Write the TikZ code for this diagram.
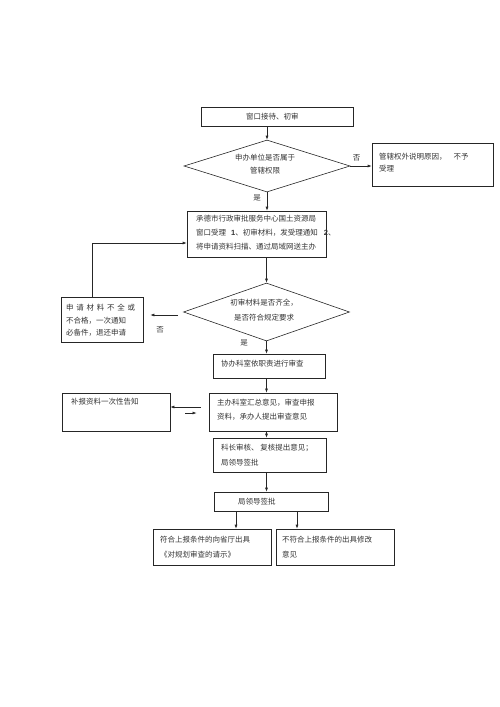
\documentclass[tikz,border=0pt]{standalone}
\usepackage{fontspec}
\newfontfamily\cjk{Noto Sans CJK SC}
\newfontfamily\latinb{Liberation Sans}
\usepackage{tikz}
\usetikzlibrary{shapes.geometric, fit, arrows.meta}

\begin{document}
\begin{tikzpicture}[x=1pt, y=-1pt,
	font=\cjk\fontsize{7.5}{14}\selectfont,
	box/.style={draw=black!85, line width=0.6pt, inner sep=0pt},
	ask/.style={draw=black!85, line width=0.6pt, diamond, inner sep=0pt},
	txt/.style={anchor=north west, align=left, inner sep=0pt, text=black!80},
	yn/.style={inner sep=0pt, text=black!80},
	arr/.style={-{Latex[length=4pt, width=3pt]}, line width=0.6pt, black!85}]

\useasboundingbox (0, 0) rectangle (500, 707);

%% Define the nodes
% tl = top left (box)
% br = bottom right (box)
% t = text of the box

\coordinate (WINtl) at (201, 107);
\coordinate (WINbr) at (353, 126);
\node [box, fit=(WINtl)(WINbr)] (WIN) {};
	\node [txt] (WINt) at (246, 112.5) {窗口接待、初审};

\node [ask, minimum width=166, minimum height=52] (Q1) at (267, 166) {};
	\node [txt, anchor=north, align=center, font=\cjk\fontsize{7.5}{13}\selectfont] (Q1t) at (265, 154) {申办单位是否属于\\管辖权限};

\coordinate (OUTtl) at (372, 143);
\coordinate (OUTbr) at (493, 186);
\node [box, fit=(OUTtl)(OUTbr)] (OUT) {};
	\node [txt, font=\cjk\fontsize{7.5}{12}\selectfont] (OUTt) at (379, 153) {管辖权外说明原因，\hspace{7pt}不予\\受理};

\coordinate (ACCtl) at (187, 211);
\coordinate (ACCbr) at (326, 257);
\node [box, fit=(ACCtl)(ACCbr)] (ACC) {};
	\node [txt] (ACCt) at (196, 215) {承德市行政审批服务中心国土资源局\\窗口受理\hspace{5pt}{\latinb\bfseries 1}、初审材料，发受理通知\hspace{6pt}{\latinb\bfseries 2}、\\将申请资料扫描、通过局域网送主办};

\node [ask, minimum width=166, minimum height=58] (Q2) at (266.5, 312) {};
	\node [txt, anchor=north, align=center, font=\cjk\fontsize{7.5}{15}\selectfont] (Q2t) at (264, 299) {初审材料是否齐全，\\是否符合规定要求};

\coordinate (RETtl) at (61, 297);
\coordinate (RETbr) at (143, 342);
\node [box, fit=(RETtl)(RETbr)] (RET) {};
	\node [txt, font=\cjk\fontsize{7.5}{12.5}\selectfont] (RETt) at (66, 304) {\makebox[69pt][s]{申\hfill 请\hfill 材\hfill 料\hfill 不\hfill 全\hfill 或}\\不合格，一次通知\\必备件，退还申请};

\coordinate (ASSTtl) at (213, 354);
\coordinate (ASSTbr) at (325, 378);
\node [box, fit=(ASSTtl)(ASSTbr)] (ASST) {};
	\node [txt] (ASSTt) at (221, 360) {协办科室依职责进行审查};

\coordinate (MAINtl) at (209, 393);
\coordinate (MAINbr) at (337, 431);
\node [box, line width=0.9pt, fit=(MAINtl)(MAINbr)] (MAIN) {};
	\node [txt] (MAINt) at (217, 399) {主办科室汇总意见，审查申报\\资料，承办人提出审查意见};

\coordinate (SUPPtl) at (62, 393);
\coordinate (SUPPbr) at (170, 431);
\node [box, fit=(SUPPtl)(SUPPbr)] (SUPP) {};
	\node [txt] (SUPPt) at (71, 398) {补报资料一次性告知};

\coordinate (CHFtl) at (213, 438);
\coordinate (CHFbr) at (326, 472);
\node [box, fit=(CHFtl)(CHFbr)] (CHF) {};
	\node [txt, font=\cjk\fontsize{7.5}{15}\selectfont] (CHFt) at (221, 444) {科长审核、 复核提出意见；\\局领导签批};

\coordinate (LEADtl) at (214, 492);
\coordinate (LEADbr) at (328, 511);
\node [box, fit=(LEADtl)(LEADbr)] (LEAD) {};
	\node [txt] (LEADt) at (238, 498) {局领导签批};

\coordinate (YEStl) at (153, 529);
\coordinate (YESbr) at (271, 565);
\node [box, fit=(YEStl)(YESbr)] (YES) {};
	\node [txt, font=\cjk\fontsize{7.5}{15}\selectfont] (YESt) at (160, 536) {符合上报条件的向省厅出具\\《对规划审查的请示》};

\coordinate (NOtl) at (276, 529);
\coordinate (NObr) at (394, 565);
\node [box, fit=(NOtl)(NObr)] (NO) {};
	\node [txt, font=\cjk\fontsize{7.5}{15}\selectfont] (NOt) at (282, 536) {不符合上报条件的出具修改\\意见};

\coordinate (LOOP) at (92, 243);

%% Draw the flow
\draw [arr] (Q1.north |- WIN.south) to (Q1.north);
\draw [arr] (Q1.east) to node [yn, above=5pt, pos=0.3] (Q1no) {否} (Q1.east -| OUT.west);
\draw [arr] (Q1.south) to (Q1.south |- ACC.north);
\node [yn] (Q1yes) at (257, 198) {是};

\draw [arr] (RET.north -| LOOP) -- (LOOP) -- (LOOP -| ACC.west);
\draw [arr] (Q2.north |- ACC.south) to (Q2.north);

\draw [arr] ([shift={(-5,3)}]Q2.west) to ([shift={(7,3)}]RET.east |- Q2.west);
\node [yn] (Q2no) at (160, 330) {否};
\draw [arr] (Q2.south) to (Q2.south |- ASST.north);
\node [yn] (Q2yes) at (244, 343) {是};

\draw [arr] (Q2.south |- ASST.south) to (Q2.south |- MAIN.north);
\draw [arr] ([shift={(-8,-5)}]MAIN.west) to ([shift={(0,-5)}]SUPP.east);
\draw [arr] ([shift={(15,1)}]SUPP.east) to ([shift={(-12,1)}]MAIN.west);
\draw [arr] (Q2.south |- MAIN.south) to (Q2.south |- CHF.north);
\draw [arr] (Q2.south |- CHF.south) to (Q2.south |- LEAD.north);

\draw [arr] ([xshift=-35pt]LEAD.south) to ([xshift=-35pt]LEAD.south |- YES.north);
\draw [arr] ([xshift=26pt]LEAD.south) to ([xshift=26pt]LEAD.south |- NO.north);

\end{tikzpicture}
\end{document}
